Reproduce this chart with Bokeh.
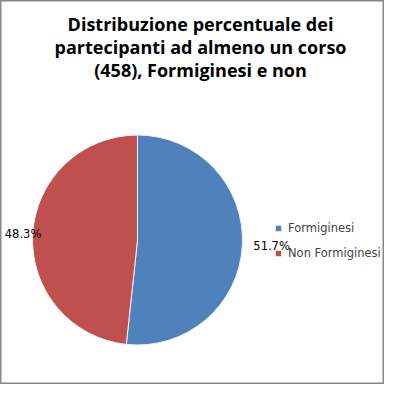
import numpy as np
from bokeh.plotting import figure
from bokeh.models import ColumnDataSource, Label, Legend, LegendItem, Range1d
from bokeh.core.properties import value
from bokeh.embed import file_html
from bokeh.resources import INLINE

# ---- data ----
categories = ["Formiginesi", "Non Formiginesi"]
percentages = [51.7, 48.3]
colors = ["#4F81BD", "#C0504D"]
title_lines = ["Distribuzione percentuale dei",
               "partecipanti ad almeno un corso",
               "(458), Formiginesi e non"]

W = H = 384
p = figure(width=W, height=H, output_backend="svg", toolbar_location=None,
           x_range=Range1d(0, W), y_range=Range1d(0, H), min_border=0)
p.axis.visible = False
p.grid.visible = False
p.outline_line_color = "#868686"
p.outline_line_width = 2
p.background_fill_color = "white"
p.border_fill_color = "white"

cx, cy, r = 137, 144.5, 105
frac = np.array(percentages) / sum(percentages)
cum = np.concatenate([[0], np.cumsum(frac)])
starts = np.pi / 2 - cum[:-1] * 2 * np.pi
ends = np.pi / 2 - cum[1:] * 2 * np.pi
mids = (starts + ends) / 2

src = ColumnDataSource(dict(cat=categories, pct=percentages, color=colors,
                            start=starts, end=ends))
w = p.wedge(x=cx, y=cy, radius=r, start_angle="start", end_angle="end",
            direction="clock", fill_color="color", line_color="#f2f2f2",
            line_width=1, source=src)

# percentage labels
lab_r = [116, 114.6]
aligns = ["left", "center"]
lx = [cx + lr * np.cos(m) for lr, m in zip(lab_r, mids)]
ly = [cy + lr * np.sin(m) for lr, m in zip(lab_r, mids)]
lsrc = ColumnDataSource(dict(x=lx, y=ly, t=[f"{v:.1f}%" for v in percentages],
                             align=aligns))
p.text(x="x", y="y", text="t", text_align="align", text_baseline="middle",
       text_font=value("DejaVu Sans"), text_font_size="11.5px",
       text_color="black", source=lsrc)

# title
for i, line in enumerate(title_lines):
    p.add_layout(Label(x=200, y=360.5 - 23 * i, text=line, text_align="center",
                       text_baseline="alphabetic", text_font="Open Sans",
                       text_font_style="bold", text_font_size="18px",
                       text_color="black"))

legend = Legend(items=[LegendItem(label=c, renderers=[w], index=i)
                       for i, c in enumerate(categories)],
                location=(274, 124), orientation="vertical",
                glyph_width=8, glyph_height=8, label_height=15, spacing=10,
                padding=0, margin=0, label_standoff=6,
                label_text_font="DejaVu Sans", label_text_font_size="11.5px",
                background_fill_alpha=0, border_line_alpha=0)
p.add_layout(legend)

open("out.html", "w").write(file_html(p, INLINE))
